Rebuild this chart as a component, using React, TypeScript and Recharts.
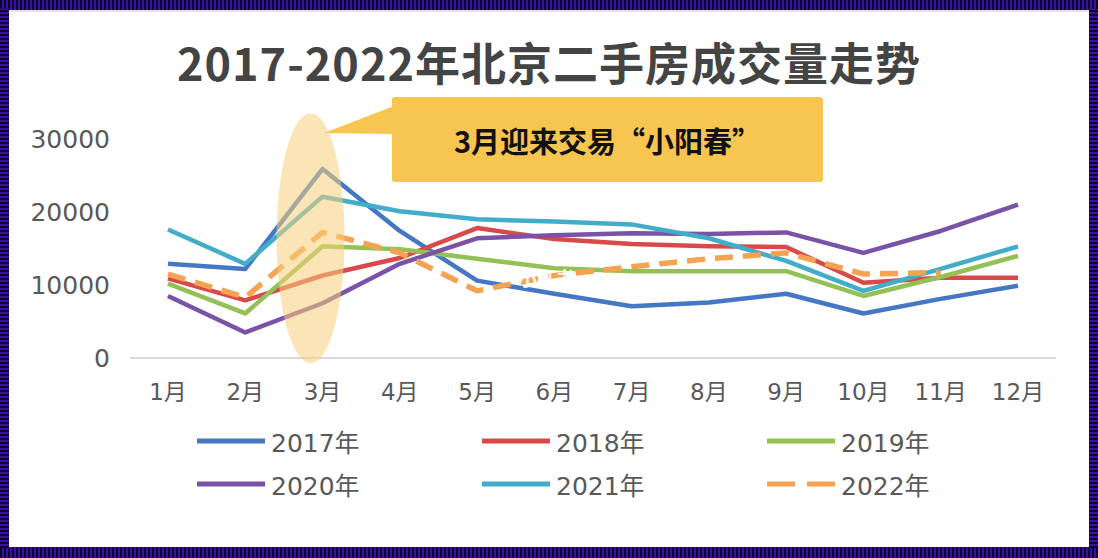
import { LineChart, Line, XAxis, YAxis, ReferenceDot } from "recharts"

// 月份 & 各年份成交量（套数）
const months = ["1月", "2月", "3月", "4月", "5月", "6月", "7月", "8月", "9月", "10月", "11月", "12月"]
const y2017 = [12900, 12200, 25900, 17400, 10600, 8800, 7100, 7600, 8800, 6100, 8100, 9900]
const y2018 = [10900, 7900, 11300, 13700, 17800, 16300, 15600, 15300, 15200, 10300, 11000, 11000]
const y2019 = [10200, 6100, 15300, 14900, 13600, 12300, 11900, 11900, 11900, 8500, 11100, 14000]
const y2020 = [8500, 3500, 7500, 12900, 16400, 16800, 17100, 17000, 17200, 14400, 17400, 21000]
const y2021 = [17600, 12900, 22100, 20100, 19000, 18700, 18300, 16400, 13300, 9200, 12200, 15300]
const y2022 = [11500, 8300, 17200, 14400, 9200, 11300, 12500, 13600, 14400, 11500, 11700, null]
const yTicks = [0, 10000, 20000, 30000]

const title = "2017-2022年北京二手房成交量走势"
const note = "3月迎来交易“小阳春”"

const series = [
  { name: "2017年", values: y2017, color: "#4677c4", dash: undefined },
  { name: "2018年", values: y2018, color: "#d9494a", dash: undefined },
  { name: "2019年", values: y2019, color: "#93c156", dash: undefined },
  { name: "2020年", values: y2020, color: "#7a52a8", dash: undefined },
  { name: "2021年", values: y2021, color: "#41adc8", dash: undefined },
  { name: "2022年", values: y2022, color: "#f5a352", dash: "18 10" },
]

const data = months.map((m, i) => {
  const row: any = { month: m }
  series.forEach(s => { row[s.name] = s.values[i] })
  return row
})

const font = '"DejaVu Sans", "Noto Sans CJK SC", sans-serif'
const grey = "#595959"

export default function App() {
  return (
    <div style={{
      position: "absolute", left: 0, top: 0, width: 1098, height: 558,
      background: "repeating-linear-gradient(90deg, #0d0630 0 2px, #3a10a8 2px 4px)",
      overflow: "hidden"
    }}>
      {/* 左右边框条纹 */}
      <div style={{ position: "absolute", left: 0, top: 9, width: 9, height: 539, background: "repeating-linear-gradient(0deg, #0d0630 0 2px, #3a10a8 2px 4px)" }} />
      <div style={{ position: "absolute", left: 1089, top: 9, width: 9, height: 539, background: "repeating-linear-gradient(0deg, #0d0630 0 2px, #3a10a8 2px 4px)" }} />
      <div style={{ position: "absolute", left: 9, top: 10, width: 1080, height: 537, background: "#fff", borderTop: "2px solid #e4e4e4", boxSizing: "border-box" }} />

      {/* 标题 */}
      <div style={{
        position: "absolute", left: 0, top: 34, width: 1098, textAlign: "center",
        fontFamily: '"Noto Sans CJK SC", sans-serif', fontWeight: 700, fontSize: 45,
        letterSpacing: 1, color: "#444", lineHeight: "56px"
      }}>{title}</div>

      <div style={{ position: "absolute", left: 0, top: 0 }}>
        <LineChart width={1098} height={558} data={data} margin={{ top: 139, right: 42, left: 0, bottom: 160 }}>
          <XAxis
            dataKey="month"
            padding={{ left: 38, right: 38 }}
            axisLine={{ stroke: "#d9d9d9", strokeWidth: 2 }}
            tickLine={false}
            tickSize={0}
            tickMargin={26}
            height={40}
            interval={0}
            tick={{ fill: grey, fontSize: 23, fontFamily: font }}
          />
          <YAxis
            domain={[0, 30000]}
            ticks={yTicks}
            width={130}
            axisLine={false}
            tickLine={false}
            tickSize={0}
            tickMargin={20}
            tick={{ fill: grey, fontSize: 25, fontFamily: font }}
          />
          {series.map(s => (
            <Line
              key={s.name}
              type="linear"
              dataKey={s.name}
              stroke={s.color}
              strokeWidth={s.dash ? 5.5 : 4.5}
              strokeDasharray={s.dash}
              strokeLinejoin="round"
              dot={false}
              activeDot={false}
              isAnimationActive={false}
            />
          ))}
          {/* 3月 高亮椭圆 */}
          <ReferenceDot
            x="3月"
            y={16400}
            ifOverflow="visible"
            shape={(p: any) => (
              <ellipse cx={p.cx - 12} cy={p.cy} rx={34} ry={125} fill="#f8d07a" fillOpacity={0.55} />
            )}
          />
        </LineChart>
      </div>

      {/* 标注框 */}
      <svg style={{ position: "absolute", left: 0, top: 0 }} width={1098} height={558}>
        <polygon points="394,106 394,134 324,133" fill="#f8c650" />
      </svg>
      <div style={{
        position: "absolute", left: 392, top: 97, width: 431, height: 85,
        background: "#f8c650", borderRadius: 3, display: "flex", alignItems: "center", justifyContent: "center",
        fontFamily: '"Noto Sans CJK SC", sans-serif', fontWeight: 700, fontSize: 29, color: "#111"
      }}>{note}</div>

      {/* 水印 */}
      <div style={{
        position: "absolute", left: 518, top: 264, fontFamily: '"Noto Sans CJK SC", sans-serif',
        fontWeight: 700, fontSize: 19, color: "rgba(255,255,255,0.9)"
      }}>小红书</div>

      {/* 图例 */}
      {series.map((s, i) => {
        const col = i % 3
        const row = Math.floor(i / 3)
        const left = 195 + col * 285
        const top = 441 + row * 43
        return (
          <div key={s.name} style={{ position: "absolute", left, top: top - 17, height: 34, display: "flex", alignItems: "center" }}>
            <svg width={72} height={10}>
              <line x1={2} y1={5} x2={70} y2={5} stroke={s.color} strokeWidth={5}
                strokeDasharray={s.dash ? "28 12" : undefined} />
            </svg>
            <span style={{ marginLeft: 4, fontFamily: font, fontSize: 25, color: grey }}>{s.name}</span>
          </div>
        )
      })}
    </div>
  )
}
